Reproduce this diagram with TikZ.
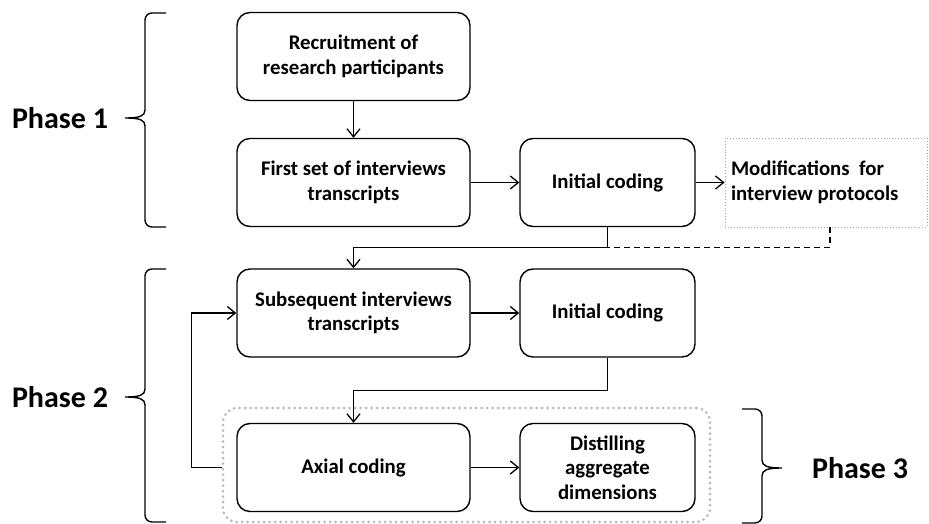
\documentclass[tikz,border=0pt]{standalone}
\usepackage{fontspec}
\setmainfont{Carlito}
\usetikzlibrary{arrows.meta}

\tikzset{
  stepbox/.style = {draw, line width=1.4pt, rounded corners=13pt, align=center,
                    font=\fontsize{20.8}{24.5}\selectfont\bfseries, inner sep=2pt},
  wide/.style    = {minimum width=233pt, minimum height=88pt},
  narrow/.style  = {minimum width=175pt, minimum height=88pt},
  conn/.style    = {line width=1.3pt, -{Straight Barb[length=8pt,width=13pt,line width=1.3pt]}},
  phase/.style   = {font=\fontsize{30}{34}\selectfont\bfseries},
  brace/.style   = {line width=1.4pt}
}

\begin{document}
\begin{tikzpicture}[x=1pt, y=-1pt]
  \useasboundingbox (0,0) rectangle (929,524);

  % phase 3 group
  \node[draw=gray!55, line width=3pt, dash pattern=on 0pt off 5.5pt, line cap=round,
        rounded corners=14pt, minimum width=487pt, minimum height=114pt]
        (grp) at (466.5,465) {};

  % boxes
  \node[stepbox, wide]   (recruit) at (353.5,56.5)  {Recruitment of\\research participants};
  \node[stepbox, wide]   (first)   at (353.5,182.5) {First set of interviews\\transcripts};
  \node[stepbox, narrow] (init1)   at (607.5,182.5) {Initial coding};
  \node[draw=gray!70, dotted, line width=0.9pt, minimum width=202pt, minimum height=89pt,
        text width=190pt, inner xsep=6pt, align=flush left,
        font=\fontsize{20.8}{24.5}\selectfont\bfseries]
        (mods) at (826,182.5) {Modifications~ for\\interview protocols};
  \node[stepbox, wide]   (subs)    at (353.5,313)   {Subsequent interviews\\transcripts};
  \node[stepbox, narrow] (init2)   at (607.5,313)   {Initial coding};
  \node[stepbox, wide]   (axial)   at (353.5,467.5) {Axial coding};
  \node[stepbox, narrow] (distil)  at (607.5,467.5) {Distilling\\aggregate\\dimensions};

  % connectors
  \draw[conn] (recruit) -- (first);
  \draw[conn] (first) -- (init1);
  \draw[conn] (init1) -- (mods);
  \draw[conn] (init1.south) -- ++(0,20) coordinate (j1) -| (subs.north);
  \draw[line width=1.3pt, dashed, dash pattern=on 6pt off 4pt] (mods.south) ++(4,0) |- (j1);
  \draw[conn] (subs) -- (init2);
  \draw[conn] (init2.south) -- ++(0,33) -| (axial.north);
  \draw[conn] (axial) -- (distil);
  \draw[conn] (grp.west |- axial) -- ++(-30,0) |- (subs.west);

  % braces
  \draw[brace] (166,13) -- (152,13) to[out=180,in=90] (145,20) -- (145,110)
    .. controls (145,116) and (140,118) .. (125,118)
    .. controls (140,118) and (145,120) .. (145,126) -- (145,220)
    to[out=-90,in=180] (152,227) -- (166,227);
  \draw[brace] (166,269) -- (152,269) to[out=180,in=90] (145,276) -- (145,389)
    .. controls (145,395) and (140,397) .. (125,397)
    .. controls (140,397) and (145,399) .. (145,405) -- (145,515)
    to[out=-90,in=180] (152,522) -- (166,522);
  \draw[brace] (742,409) -- (755,409) to[out=0,in=90] (762,416) -- (762,460)
    .. controls (762,466) and (767,468) .. (782,468)
    .. controls (767,468) and (762,470) .. (762,476) -- (762,516)
    to[out=-90,in=0] (755,523) -- (742,523);

  % phase labels
  \node[phase] (ph1) at (60,118)  {Phase 1};
  \node[phase] (ph2) at (60,397)  {Phase 2};
  \node[phase] (ph3) at (860,468) {Phase 3};
\end{tikzpicture}
\end{document}
